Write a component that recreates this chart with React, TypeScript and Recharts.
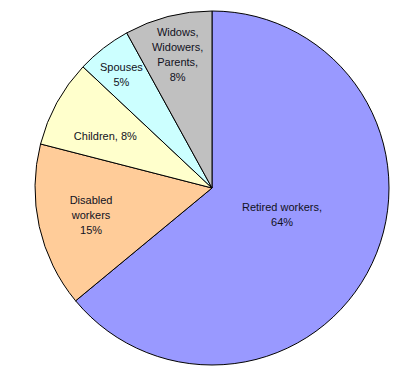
import React from "react";
import { PieChart, Pie, Cell } from "recharts";

const categories = ["Retired workers", "Disabled workers", "Children", "Spouses", "Widows, Widowers, Parents"];
const values = [64, 15, 8, 5, 8];
const labelLines: string[][] = [
  ["Retired workers,", "64%"],
  ["Disabled", "workers", "15%"],
  ["Children, 8%"],
  ["Spouses", "5%"],
  ["Widows,", "Widowers,", "Parents,", "8%"],
];
const colors = ["#9999FF", "#FFCC99", "#FFFFCC", "#CCFFFF", "#C0C0C0"];
const labelRadiusFactor = [0.423, 0.7, 0.67, 0.82, 0.78];
const labelAngleOffset = [4.5, 0, 2.9, 0.8, 0];

const data = categories.map((name, i) => ({ name, value: values[i] }));

const RAD = Math.PI / 180;

const renderLabel = (props: any) => {
  const { cx, cy, midAngle, outerRadius, index } = props;
  const r = outerRadius * labelRadiusFactor[index];
  const a = midAngle + labelAngleOffset[index];
  const x = cx + r * Math.cos(-a * RAD);
  const y = cy + r * Math.sin(-a * RAD);
  const lines = labelLines[index];
  const lh = 15;
  const startY = y - ((lines.length - 1) * lh) / 2;
  return (
    <text
      key={`lbl-${index}`}
      x={x}
      y={startY}
      textAnchor="middle"
      dominantBaseline="central"
      fontFamily="Liberation Sans, Arial, sans-serif"
      fontSize={11}
      fill="#111122"
    >
      {lines.map((l, j) => (
        <tspan key={j} x={x} y={startY + j * lh} dominantBaseline="central">
          {l}
        </tspan>
      ))}
    </text>
  );
};

export default function App() {
  return (
    <div style={{ position: "absolute", left: 0, top: 0, width: 419, height: 381, background: "#fff" }}>
      <PieChart width={419} height={381} margin={{ top: 0, right: 0, bottom: 0, left: 0 }}>
        <Pie
          data={data}
          dataKey="value"
          nameKey="name"
          cx={212}
          cy={188}
          outerRadius={177}
          startAngle={90}
          endAngle={-270}
          stroke="#000"
          strokeWidth={1}
          label={renderLabel}
          labelLine={false}
          isAnimationActive={false}
        >
          {data.map((d, i) => (
            <Cell key={d.name} fill={colors[i]} />
          ))}
        </Pie>
      </PieChart>
    </div>
  );
}
